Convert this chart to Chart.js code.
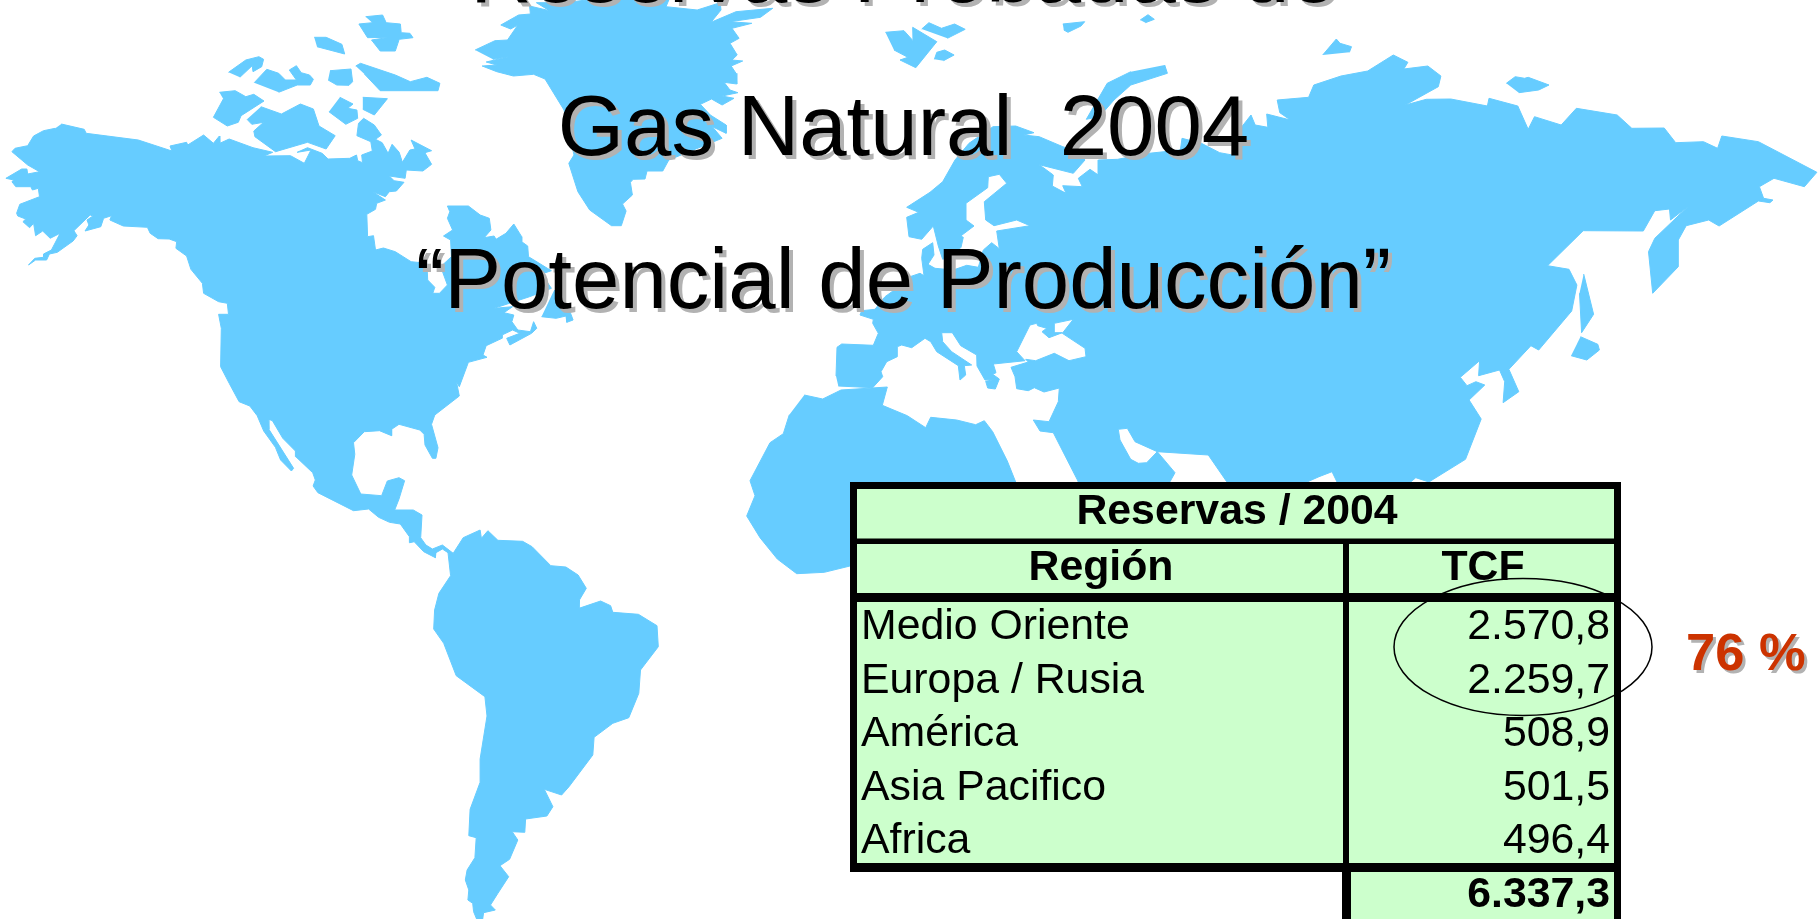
<!DOCTYPE html>
<html>
<head>
<meta charset="utf-8">
<title>Reservas Probadas de Gas Natural 2004</title>
<script src="https://cdn.jsdelivr.net/npm/chart.js@4"></script>
<style>
    html,body{margin:0;padding:0;background:#fff;overflow:hidden;}
    canvas{display:block;}
</style>
</head>
<body>
<canvas id="grafReservas" width="1820" height="919"></canvas>
<script>
// datos de la tabla
const titulos = ['Reservas Probadas de','Gas Natural  2004','“Potencial de Producción”']
const tituloTabla = 'Reservas / 2004'
const columnas = ['Región','TCF']
const regiones = ['Medio Oriente','Europa / Rusia','América','Asia Pacifico','Africa']
const reservasTCF = [2570.8,2259.7,508.9,501.5,496.4]
const totalTCF = 6337.3
const porcentaje = '76 %'

// contornos del mapa, en unidades de los ejes
const norteYSurAmerica = [[61.3,124],[84.2,129.3],[86.2,133.3],[138.3,140],[171.9,151],[170,146],[186.6,142.3],[187.7,145],[203.6,135],[213.4,143.3],[219.4,136],[219.8,143.3],[229.2,139],[253,147.7],[272.7,152.3],[264,156],[290.5,155.7],[304.3,163.3],[311,150],[297.2,152.3],[307.5,147.7],[322.1,153.3],[328.1,159],[349.8,158.3],[356.5,155],[357.7,160.7],[362.5,162.7],[361.7,155],[372.3,151],[370.8,141.7],[356.9,135.7],[358.5,123.3],[363.6,118.3],[374.3,125],[381.4,135],[375.5,139.3],[382.2,142.7],[388.1,153.3],[392.1,144.3],[399.2,152.3],[402.4,162.3],[409.9,150],[415,149],[411.1,140],[431.6,150.7],[424.9,152.7],[431.6,164.3],[422.9,171],[406.3,170],[405.1,178.3],[389.3,176],[394.1,180.7],[404,182.3],[396.4,191],[389.3,191.7],[385.4,196.7],[372.7,191.7],[385.4,200],[376.7,203.3],[375.5,209.3],[366.8,214.3],[367.6,236.7],[373.5,235.7],[375.5,250],[383.4,248],[395.3,251.7],[411.1,261.7],[426.9,263.3],[427.7,280],[434.8,287.3],[432.8,293.3],[439.5,293.3],[447.4,285],[440.7,266.7],[451.4,256.7],[450.6,240],[443.5,236],[452.6,230],[447.4,218.3],[449.8,211.7],[447.4,206],[468.4,206],[480.2,215],[489.3,218.3],[490.9,230],[484.2,237.7],[494.1,236],[496,239.3],[505.9,233.3],[513.8,224],[521.7,236.7],[521.7,241.7],[527.7,246],[528.5,256.7],[547.4,268.3],[551.4,270.7],[541.5,274],[551.4,288.3],[529.6,296.7],[494.1,308.3],[512.6,306.7],[503.9,312.7],[513.8,315],[511.9,321.7],[517.8,330],[530.4,331.7],[533.6,321.7],[536.8,328.3],[531.6,333.3],[509.9,345],[506.7,338.3],[519.8,333.3],[512.6,330],[502,335],[502,338.3],[486.2,345.7],[483,355],[487,357.3],[468.4,362.3],[459.3,386.7],[456.5,381.7],[459.3,396],[434.8,415],[431.5,424.3],[438,447.7],[435.9,458.3],[432.4,458.3],[425,445],[424.1,434.3],[419.8,430],[399,424.3],[391.6,429.3],[391.6,435.7],[379.5,430.7],[364.3,431.7],[353.5,442.7],[354.8,454.3],[351.7,475],[360.8,494],[381.6,495.7],[387.3,481],[399,477.7],[404.6,480.7],[399,499],[394.7,510],[413.3,510],[422,515],[420.7,537.7],[425.9,545],[432.4,549],[442.4,545],[453.2,553.3],[463.2,537.7],[480.1,530],[481.4,538.3],[487.9,530.7],[497.9,540.3],[522.6,541.3],[532.1,546.7],[550.8,565.7],[565.9,567],[578.1,575],[586.3,588.3],[579.4,600],[579,608.3],[600.6,601],[610.6,605.7],[612.8,612.3],[638.4,614.3],[657,625.7],[658.3,646.7],[640.5,670],[638.8,693.3],[628.8,717.7],[612.8,723.3],[594.1,737.3],[592.8,755],[569,786.7],[561.6,795],[544.3,789.3],[552.9,806.7],[546.9,816],[525.6,819],[524.8,832.3],[512.2,831.7],[517.8,840],[509.6,859.3],[500,865.7],[508.7,876.7],[497.9,893.3],[490.5,905],[495.3,910],[483.6,912.7],[482.7,919],[476.6,919],[473.6,911.7],[472.7,903.3],[467.9,900],[468.8,890],[465.3,880],[467.1,870],[474.9,857.7],[476.2,837.7],[468.8,835.7],[470.1,809.3],[480.1,782.3],[480.1,759],[487,716],[484.9,696.7],[456.2,675.7],[443.7,643.3],[433.7,629],[434.6,610],[438.9,593.3],[450.6,575.7],[448,552.7],[442.4,549],[435.9,552.7],[435.4,557.7],[423.7,551.7],[414.2,541.7],[409.8,542.7],[409.4,536.7],[400.3,524],[389.5,522.3],[378.6,517.3],[368.6,509],[353.5,510.7],[317.9,492.7],[313.1,486],[315.3,480],[312.7,472.7],[295.8,456.7],[295.4,451],[282.8,438.3],[272.4,420.7],[268,419],[268.9,429.3],[293.6,468.3],[291.4,471],[280.6,460],[275.4,447.3],[263.7,431],[257.2,415.7],[249.8,406],[239.1,401.7],[229.2,383.3],[220.6,366.7],[221.3,328.3],[218.6,314.3],[228.5,314.3],[227.3,303.3],[218.6,301.7],[203.6,293.3],[202.4,283.3],[190.9,269.3],[186.6,256],[175.9,248.3],[176.7,241.7],[169.2,239],[158.1,238.7],[150.2,233.3],[147.4,227.3],[123.3,226],[109.9,220],[111.5,215.7],[103.6,218.3],[100.8,226.7],[85,231],[88.9,225],[87,220],[92.9,216],[90.1,215],[73.9,230.7],[77.1,235.7],[73.1,241],[57.3,252.3],[49.4,254],[46.6,260],[35.6,260],[28.5,265],[34.8,258.3],[43.5,257.3],[43.5,254],[51.4,250],[60.1,233.3],[50.2,238.3],[42.7,231],[35.6,235.7],[33.6,223.3],[29.6,227.7],[22.9,221.7],[25.7,219],[17.8,216],[16.6,213.3],[19.8,204.3],[39.5,196.7],[38.3,188.3],[32.4,190],[30.8,186.7],[15.8,186.7],[11.9,181.7],[13.8,180],[5.9,178.3],[21.7,169],[26.9,169],[27.7,174],[39.5,171.7],[27.7,165],[11.9,151.7],[15,148.3],[27.7,145.7],[33.6,136],[43.5,130.7],[55.3,128.3]]

const groenlandia = [[475.1,50],[494.9,40.7],[507.5,40],[517.8,25],[510.7,29],[500.8,25],[518.6,15],[530.4,14],[529.6,6],[549.4,10.7],[536.4,2.7],[566,2.7],[585.8,0],[668.8,0],[666,6.7],[697.2,10],[720.2,2.7],[721,10],[711,22.3],[736,11.7],[772.7,8.3],[760.5,17.3],[730,21.7],[751.8,23.3],[732,28.3],[739.1,38.3],[730,43.3],[737.2,55],[732,60],[742.7,61],[731.2,66],[736,73.3],[736.8,84],[724.1,82.3],[730,90],[737.9,92.7],[722.1,96],[734,98.3],[722.1,105],[711.5,99],[700.4,104.3],[710.3,115],[726.1,125],[726.1,133.3],[712.3,126.7],[722.1,138.3],[668.8,160],[662.8,171],[647,171],[645,179],[633.2,179.3],[630.4,182.3],[632.4,195],[622.5,204],[626.1,211],[621.3,225.7],[611.5,225.7],[589.7,210],[577.9,191.7],[568.8,163.3],[574,155],[564,110],[545,79],[533.6,74.3],[513.4,76],[496.8,71.7],[482.2,66],[496.8,65],[486.2,62],[508.7,56.7],[492.9,59.3]]

const africa = [[804.3,395],[822.7,399],[841,390],[887.3,387],[882.3,405.3],[907.3,415.7],[925.7,427.7],[930.7,417.3],[956.7,420],[975.7,424.7],[984.3,420.7],[992.7,431.7],[1007.3,461],[1015.7,482],[1015.7,500],[860,500],[850,566],[824.3,572.3],[796.7,573.7],[777.3,559],[760,537.7],[746.7,516],[755,495.7],[750,480.7],[770,442.7],[783.3,433.7],[789.3,414.7]]

const eurasia = [[838.3,386],[872.7,387.7],[882.7,376.7],[881,371.7],[886.7,361.7],[897.3,356.7],[897.3,346.7],[901.7,345],[911.7,347.7],[925,338.3],[930.7,341.7],[936.7,351.7],[958.3,365.7],[960,380],[965.7,375],[964.3,365.7],[971.7,365],[951.7,351.7],[942.7,341.7],[941.7,332.7],[952.3,332.7],[960.7,345.7],[976.7,355],[977,366],[985,380],[996.7,379],[985.7,381.3],[987.7,388],[995.3,389],[999.3,379],[992.7,374.3],[996,372.7],[993.3,364],[1025,360.7],[1016.7,351.7],[1030,325],[1036.7,323.3],[1037.7,325.7],[1046.7,328.3],[1042,331.7],[1049,337.7],[1062.3,332.7],[1054,332.7],[1054.3,323.3],[1073.3,319.3],[1062.3,333.3],[1085,348.3],[1086,356.7],[1069,360.7],[1054.3,353.3],[1035.7,360.7],[1025.7,359.3],[1028.3,362],[1011,367.3],[1015,376.7],[1016.7,388.7],[1028.3,390.7],[1034.3,387.7],[1044,392],[1059.3,388],[1058.3,401.7],[1049,421.7],[1033.3,420],[1040,431],[1053.3,432.7],[1078.3,481.7],[1078,495],[1170,495],[1170,481.7],[1175,472.7],[1157.3,451.7],[1146.7,462.7],[1138.3,463.3],[1130.7,459.3],[1120,440],[1118.3,429.3],[1127.3,428.3],[1135,441.7],[1157.3,451.7],[1208.3,455],[1226.7,481.7],[1227,495],[1307,495],[1307,482],[1319,476.7],[1332,471.7],[1337,482],[1337,495],[1410,495],[1410.6,482],[1415.8,477.7],[1428.9,482],[1465.5,459.3],[1481.2,419],[1469.1,400],[1484.8,385],[1475.9,381.7],[1467,385.7],[1460.3,377.3],[1479.6,360.7],[1478.6,375.7],[1499.5,370],[1504.7,381.7],[1503.1,402.7],[1518.8,391.7],[1508.9,369.3],[1530.9,345.7],[1538.7,350],[1571.7,311],[1576.9,285],[1569,269.3],[1547.6,265.7],[1583.2,230.7],[1643.3,231],[1654.8,210.7],[1669.5,209],[1670.5,220],[1687.8,206.7],[1654.8,238.3],[1648.5,251.7],[1652.7,293.3],[1678.3,266.7],[1678.3,240],[1686.2,225.7],[1708.7,220],[1719.1,226],[1758.4,201],[1769.9,202.7],[1773,200],[1763.6,198.3],[1759.4,186.7],[1774,178.3],[1804.4,186.7],[1816.9,172.3],[1758.4,141.7],[1721.8,136],[1717.6,148.3],[1703.5,141.7],[1675.7,142.7],[1664.2,128],[1631.8,128.3],[1617.2,115],[1576.4,108.3],[1561.2,125],[1534.5,116.7],[1528.2,129.3],[1517.8,106],[1489,98.3],[1487.4,106],[1450.8,99],[1426.3,99.3],[1405.3,105],[1438.3,86.7],[1440.9,76],[1427.8,66],[1403.8,69],[1407.9,62.3],[1393.3,55],[1367.7,71],[1341,76],[1313.8,85],[1308.6,97.3],[1277.2,100],[1279.8,112.7],[1290.3,120],[1266.7,114],[1267.8,127.3],[1255.2,125],[1251,115],[1240.6,128.3],[1241.6,156.7],[1219.7,152.7],[1201.4,143.3],[1182,138.3],[1180.4,150],[1149,153.3],[1117.7,159.3],[1098.3,160],[1098.3,175],[1090,169.3],[1078.3,178.3],[1082.3,186.7],[1062.7,185.7],[1066,193.3],[1052.3,186],[1053.3,175],[1039.3,164.7],[1073.3,173.3],[1085,160],[1078,152],[1062.8,146.7],[1039.2,136.7],[1023.5,135],[1034,132.7],[1015.7,126],[993,126.7],[969,143.3],[955,160],[942.7,181.7],[930,192.3],[906.7,207.3],[918.7,212.3],[906.7,217.3],[909,236.7],[921.7,239.3],[933.3,226],[938.3,246],[942.7,259.3],[953.3,255],[961,247.3],[963.3,237.3],[960.7,236],[974,226],[966,220],[966,203.3],[987.7,187.7],[988.3,176.7],[999.3,174.3],[1006.7,183.3],[984.3,201.7],[985.7,220],[994,225.7],[1016.7,220],[1030,225.7],[996.7,231],[999.3,248.7],[991.7,242.7],[983.3,250],[978.3,267.3],[966.7,265.3],[953.3,270],[935,268.3],[928,264.3],[934,255],[932.7,242.7],[922.7,249.3],[921.7,258.3],[924,275.7],[920,273.3],[910,276.7],[893.3,290.7],[885,296.7],[875,309.3],[861.7,310.7],[860,315],[873.3,319.3],[872.7,323.3],[878.3,333.3],[873.3,345.3],[841.7,344],[837,347.3],[836,376]]

const islas = [
    [[365.6,16.7],[382.6,15],[386.2,22.7],[400.4,24],[401.2,32.7],[409.9,33.3],[413,37.7],[399.2,39.3],[395.3,51],[380.2,51],[371.5,40],[389.3,37.3],[367.6,37.7],[358.9,24],[372.3,22.7]],
    [[314.2,37.3],[326.1,37.3],[341.9,44.3],[344.7,54],[317,46.7]],
    [[355.7,66],[360.5,63.3],[395.3,75],[410.3,81.7],[426.9,77.3],[439.9,83.3],[438,90.7],[380.2,90.7],[364.4,74]],
    [[330,70.7],[351,69],[352.6,81.7],[349,85.3],[336.8,85],[328.1,80]],
    [[228.5,72.3],[245.8,60],[258.9,56.7],[263.6,59.3],[261.7,66.7],[253,71.7],[252.2,65.7],[239.9,77.3]],
    [[254.2,82.7],[266.8,69.3],[278.7,73.3],[285.4,80],[296.4,80],[289.3,70],[296.4,65.7],[301.2,72.7],[309.5,75],[313.4,79.3],[310.3,85],[297.2,85],[278.7,92.3]],
    [[219.4,92.3],[235.2,90.7],[245.8,96.7],[253.8,94.3],[264,101],[241.1,115.7],[238.3,122.3],[227.3,126],[213.4,117.3],[223.3,99]],
    [[260.9,106.7],[281.4,114],[300.4,104],[313.4,109],[319,126],[335.2,135.7],[326.1,149],[307.5,142.3],[275.5,151.7],[254.9,136.7],[253.8,131],[263.6,122.3],[251.8,124.3],[247,119.3]],
    [[339.9,97.3],[353,104],[347.8,108.3],[356.9,110],[357.7,118.3],[345.8,124.3],[328.9,111.7]],
    [[362.8,97.3],[387.4,98.7],[374.3,115],[362.8,109.3]],
    [[541.5,316.7],[556.1,318.3],[566,316],[566.8,322.3],[573.1,320],[570,311.7],[554.2,290]],
    [[885.4,32.3],[904,30.7],[913,40.7],[912.7,27.3],[936.8,41.7],[915.8,67.7],[900,60],[907.9,57.3],[894,50]],
    [[921.7,29],[928.9,22.7],[941.5,28.3],[954.6,24],[965.2,29.3],[947.4,38.3]],
    [[934.4,59.3],[936.8,52.3],[944.7,50],[954.1,55],[943.5,60.7]],
    [[1062.8,24],[1084.7,21.7],[1081,26],[1068,32.3],[1063.8,30]],
    [[1140.2,20],[1148,14.7],[1154.3,19.3],[1145.4,22.7]],
    [[1164.7,65],[1167.4,73.3],[1130.8,85],[1114,100],[1099.4,116.7],[1086.3,119.3],[1107.2,83.3],[1130.8,71.7]],
    [[1322.7,55],[1336.3,39],[1340,43.3],[1351.5,46.7],[1349.4,52.3]],
    [[1506.3,83.3],[1515.2,76.7],[1524.6,78.3],[1528.2,77.3],[1549,85],[1538.7,90],[1518.8,92.7]],
    [[1583.7,274],[1593.6,314.3],[1581.6,332.7],[1579.5,293.3]],
    [[1580.5,336.7],[1597.8,344.3],[1599.4,350],[1586.8,360],[1571.1,355.7]]
]

const AZUL = '#66CCFF'
const VERDE = '#CCFFCC'
const ROJO = '#CC3300'
const SOMBRA = '#B2B2B2'
const LETRA = '"Liberation Sans", Arial, sans-serif'

function formatoTCF(valor)
{
    return valor.toLocaleString('de-DE',{minimumFractionDigits:1,maximumFractionDigits:1})
}

function datasetMapa(contorno)
{
    return {
        data: contorno.map(p => ({x:p[0],y:p[1]})),
        showLine: true,
        fill: 'shape',
        backgroundColor: AZUL,
        borderColor: AZUL,
        borderWidth: 1,
        pointRadius: 0,
        tension: 0,
    }
}

// titulos, tabla y elipse encima del mapa
const pluginTabla = {
    id:'tablaReservas',
    afterDatasetsDraw(chart){
        let ctx = chart.ctx
        let px = v => chart.scales.x.getPixelForValue(v)
        let py = v => chart.scales.y.getPixelForValue(v)

        let caja = (color,x0,y0,x1,y1) => {
            ctx.fillStyle = color
            ctx.fillRect(px(x0),py(y0),px(x1)-px(x0),py(y1)-py(y0))
        }
        let texto = (t,x,y,align,font,color) => {
            ctx.font = font
            ctx.textAlign = align
            ctx.textBaseline = 'alphabetic'
            ctx.fillStyle = color
            ctx.fillText(t,px(x),py(y))
        }

        ctx.save()

        // titulo con sombra
        let lineasTitulo = [2,155,308]
        titulos.forEach((t,i) => {
            texto(t,907.5,lineasTitulo[i]+4,'center',`85.2px ${LETRA}`,SOMBRA)
            texto(t,903.5,lineasTitulo[i],'center',`85.2px ${LETRA}`,'#000')
        })

        // bordes y celdas
        caja('#000',850,482,1621,872)
        caja('#000',1342,872,1621,919)
        caja(VERDE,857,489,1614,538.5)
        caja(VERDE,857,544,1343,593)
        caja(VERDE,1349,544,1614,593)
        caja(VERDE,857,602,1343,863)
        caja(VERDE,1349,602,1614,863)
        caja(VERDE,1351,872,1614,919)

        let negrita = `bold 42.8px ${LETRA}`
        let normal = `42.8px ${LETRA}`
        texto(tituloTabla,1237,524,'center',negrita,'#000')
        texto(columnas[0],1101,580,'center',negrita,'#000')
        texto(columnas[1],1483,580,'center',negrita,'#000')

        let lineasFila = [639,693,746,800,853]
        regiones.forEach((r,i) => {
            texto(r,861,lineasFila[i],'left',normal,'#000')
            texto(formatoTCF(reservasTCF[i]),1610,lineasFila[i],'right',normal,'#000')
        })
        texto(formatoTCF(totalTCF),1610,907,'right',negrita,'#000')

        // elipse sobre los dos primeros
        ctx.beginPath()
        ctx.ellipse(px(1523),py(647),129,68.5,0,0,Math.PI*2)
        ctx.lineWidth = 1.5
        ctx.strokeStyle = '#000'
        ctx.stroke()

        texto(porcentaje,1689,673,'left',`bold 52.5px ${LETRA}`,SOMBRA)
        texto(porcentaje,1686,670,'left',`bold 52.5px ${LETRA}`,ROJO)

        ctx.restore()
    }
}

let grafReservas = document.getElementById('grafReservas')

let mapaReservas = new Chart(grafReservas,{
    type:'scatter',
    plugins:[pluginTabla],
    data:{
        datasets:[norteYSurAmerica,groenlandia,africa,eurasia,...islas].map(datasetMapa),
    },
    options:{
        responsive:false,
        animation:false,
        layout:{padding:0},
        plugins:{
            legend:{display:false},
            tooltip:{enabled:false},
            title:{display:false},
        },
        scales:{
            x:{type:'linear',min:0,max:1820,display:false},
            y:{type:'linear',min:0,max:919,reverse:true,display:false},
        },
    },
})
</script>
</body>
</html>
